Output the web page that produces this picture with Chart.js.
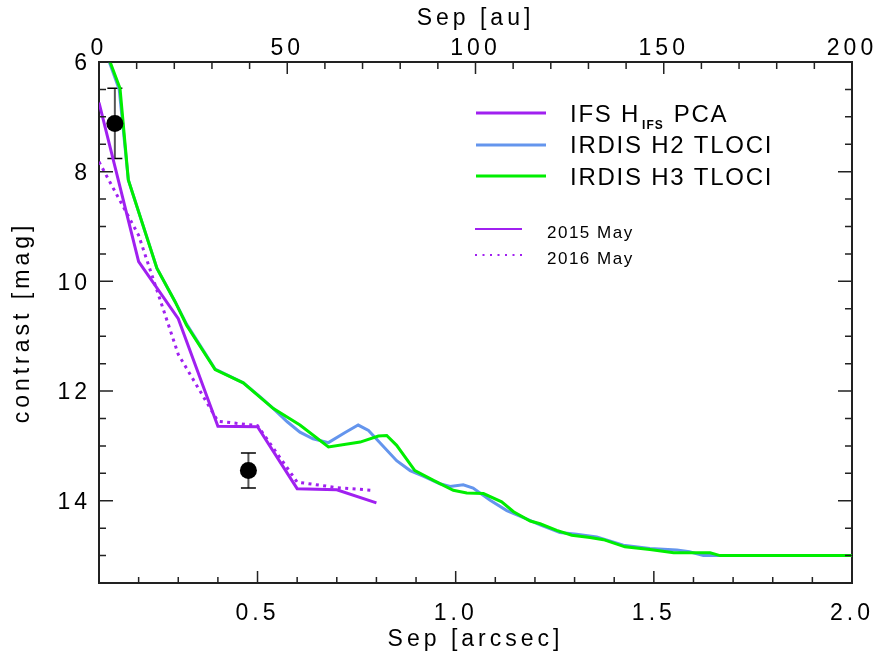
<!DOCTYPE html>
<html><head><meta charset="utf-8">
<script src="https://cdn.jsdelivr.net/npm/chart.js@4.4.1/dist/chart.umd.min.js"></script>
<style>html,body{margin:0;padding:0;background:#fff}canvas{display:block}</style>
</head><body>
<canvas id="c" width="878" height="670"></canvas>
<script>
// ---- data ----
const sepIFS2015 = [0.1, 0.2, 0.3, 0.4, 0.5, 0.6, 0.7, 0.8];
const magIFS2015 = [6.74, 9.64, 10.68, 12.64, 12.65, 13.78, 13.80, 14.04];
const sepIFS2016 = [0.1, 0.2, 0.3, 0.4, 0.5, 0.6, 0.7, 0.79];
const magIFS2016 = [7.82, 9.16, 11.33, 12.55, 12.63, 13.66, 13.76, 13.81];
const sepH2 = [0.126,0.151,0.174,0.246,0.292,0.321,0.393,0.464,0.506,0.54,0.575,0.607,0.64,0.679,0.72,0.754,0.78,0.851,0.885,0.918,0.96,0.986,1.019,1.044,1.087,1.129,1.171,1.213,1.263,1.305,1.356,1.423,1.49,1.558,1.59,1.625,2.0];
const magH2 = [6.0,6.5,8.15,9.76,10.37,10.78,11.6,11.85,12.1,12.32,12.56,12.75,12.87,12.94,12.76,12.62,12.72,13.27,13.45,13.55,13.69,13.74,13.71,13.77,13.99,14.18,14.31,14.44,14.58,14.61,14.66,14.81,14.87,14.9,14.93,15.0,15.0];
const sepH3 = [0.128,0.153,0.174,0.246,0.292,0.321,0.393,0.464,0.506,0.54,0.607,0.679,0.759,0.805,0.826,0.851,0.897,0.944,0.994,1.028,1.07,1.116,1.146,1.188,1.213,1.255,1.293,1.339,1.373,1.427,1.49,1.55,1.642,1.667,2.0];
const magH3 = [6.0,6.48,8.15,9.76,10.37,10.8,11.61,11.85,12.11,12.32,12.62,13.02,12.93,12.82,12.81,12.99,13.45,13.63,13.81,13.86,13.87,14.02,14.2,14.37,14.42,14.54,14.63,14.67,14.71,14.84,14.89,14.95,14.95,15.0,15.0];
const detSep = [0.14, 0.477];
const detMag = [7.12, 13.45];
const detErr = [0.64, 0.32];
// ---- axis / label text ----
const sepLabelled = [0.5, 1.0, 1.5, 2.0];
const auLabelled = [0, 50, 100, 150, 200];
const magLabelled = [6, 8, 10, 12, 14];
const seriesNames = ['IRDIS H2 TLOCI', 'IRDIS H3 TLOCI'];
const ifsName = ['IFS H', 'IFS', 'PCA'];
const epochNames = ['2015 May', '2016 May'];

const PURPLE = '#a020f0', BLUE = '#6495ed', GREEN = '#00ee00';
const FONT = 'Liberation Sans';

const pts = (xs, ys) => xs.map((x, i) => ({x, y: ys[i]}));
const near = (v, arr) => arr.some(a => Math.abs(a - v) < 1e-6);

const spacingPlugin = {
  id: 'spacing',
  beforeUpdate(chart){ chart.ctx.letterSpacing = '4px'; },
  beforeDraw(chart){ chart.ctx.letterSpacing = '4px'; }
};

const errPlugin = {
  id: 'errbars',
  beforeDatasetsDraw(chart){
    const {ctx, scales:{x, y}} = chart;
    ctx.save();
    detSep.forEach((s, i) => {
      const px = x.getPixelForValue(s);
      const y1 = y.getPixelForValue(detMag[i] - detErr[i]);
      const y2 = y.getPixelForValue(detMag[i] + detErr[i]);
      ctx.strokeStyle = '#555'; ctx.lineWidth = 2;
      ctx.beginPath(); ctx.moveTo(px, y1); ctx.lineTo(px, y2); ctx.stroke();
      ctx.strokeStyle = '#000'; ctx.lineWidth = 1.5;
      ctx.beginPath();
      ctx.moveTo(px - 7.5, y1); ctx.lineTo(px + 7.5, y1);
      ctx.moveTo(px - 7.5, y2); ctx.lineTo(px + 7.5, y2);
      ctx.stroke();
    });
    ctx.restore();
  }
};

const tickPlugin = {
  id: 'inticks',
  afterDatasetsDraw(chart){
    const {ctx, chartArea:{left, right, top, bottom}, scales:{x, x2, y}} = chart;
    ctx.save();
    ctx.strokeStyle = '#222'; ctx.lineWidth = 1.5;
    ctx.beginPath();
    x.ticks.forEach(t => {
      const p = x.getPixelForValue(t.value);
      const L = near(t.value, sepLabelled) ? 12 : 6;
      ctx.moveTo(p, bottom); ctx.lineTo(p, bottom - L);
    });
    x2.ticks.forEach(t => {
      const p = x2.getPixelForValue(t.value);
      const L = near(t.value, auLabelled) ? 12 : 7;
      ctx.moveTo(p, top); ctx.lineTo(p, top + L);
    });
    y.ticks.forEach(t => {
      const p = y.getPixelForValue(t.value);
      const L = near(t.value, magLabelled) ? 14 : 7;
      ctx.moveTo(left, p); ctx.lineTo(left + L, p);
      ctx.moveTo(right, p); ctx.lineTo(right - L, p);
    });
    ctx.stroke();
    ctx.restore();
  }
};

const legendPlugin = {
  id: 'customLegend',
  afterDraw(chart){
    const ctx = chart.ctx;
    ctx.save();
    ctx.textBaseline = 'middle';
    ctx.textAlign = 'left';
    ctx.fillStyle = '#000';
    ctx.lineCap = 'butt';
    const lx1 = 476, lx2 = 546, tx = 570;
    const rows = [{c: PURPLE, ly: 113, ty: 115}, {c: BLUE, ly: 145, ty: 146}, {c: GREEN, ly: 176, ty: 178}];
    rows.forEach(r => {
      ctx.strokeStyle = r.c; ctx.lineWidth = 3;
      ctx.beginPath(); ctx.moveTo(lx1, r.ly); ctx.lineTo(lx2, r.ly); ctx.stroke();
    });
    ctx.letterSpacing = '1.75px';
    ctx.font = '24px "' + FONT + '"';
    ctx.fillText(ifsName[0], tx, rows[0].ty);
    let w = ctx.measureText(ifsName[0]).width;
    ctx.font = 'bold 12px "' + FONT + '"';
    ctx.letterSpacing = '1px';
    ctx.fillText(ifsName[1], tx + w + 2, rows[0].ty + 11);
    const w2 = ctx.measureText(ifsName[1]).width;
    ctx.font = '24px "' + FONT + '"';
    ctx.letterSpacing = '1.75px';
    ctx.fillText(ifsName[2], tx + w + w2 + 12, rows[0].ty);
    ctx.fillText(seriesNames[0], tx, rows[1].ty);
    ctx.fillText(seriesNames[1], tx, rows[2].ty);
    ctx.strokeStyle = PURPLE; ctx.lineWidth = 2;
    ctx.beginPath(); ctx.moveTo(475, 229); ctx.lineTo(522, 229); ctx.stroke();
    ctx.setLineDash([2, 5.5]);
    ctx.beginPath(); ctx.moveTo(475, 255); ctx.lineTo(522, 255); ctx.stroke();
    ctx.setLineDash([]);
    ctx.font = '17px "' + FONT + '"';
    ctx.letterSpacing = '1.5px';
    ctx.fillText(epochNames[0], 547, 233);
    ctx.fillText(epochNames[1], 547, 259.5);
    ctx.restore();
  }
};

const tickFont = {family: FONT, size: 23};
const titleFont = {family: FONT, size: 23};
const noPadH = (s, h) => { s.height = h; s.paddingLeft = 0; s.paddingRight = 0; };
const noPadV = (s, w) => { s.width = w; s.paddingTop = 0; s.paddingBottom = 0; };

new Chart(document.getElementById('c'), {
  type: 'line',
  data: {
    datasets: [
      {label: 'Detections', data: pts(detSep, detMag), showLine: false, pointRadius: 8.5,
       pointBackgroundColor: '#000', pointBorderColor: '#000', pointBorderWidth: 0, clip: false, order: 0},
      {label: seriesNames[1], data: pts(sepH3, magH3), borderColor: GREEN, borderWidth: 3, pointRadius: 0, tension: 0, order: 1},
      {label: 'IFS 2015 May', data: pts(sepIFS2015, magIFS2015), borderColor: PURPLE, borderWidth: 3, pointRadius: 0, tension: 0, order: 2},
      {label: 'IFS 2016 May', data: pts(sepIFS2016, magIFS2016), borderColor: PURPLE, borderWidth: 3, borderDash: [3, 4.4], borderCapStyle: 'butt', pointRadius: 0, tension: 0, order: 3},
      {label: seriesNames[0], data: pts(sepH2, magH2), borderColor: BLUE, borderWidth: 3, pointRadius: 0, tension: 0, order: 4}
    ]
  },
  options: {
    responsive: false,
    animation: false,
    devicePixelRatio: 1,
    layout: {padding: 0},
    plugins: {legend: {display: false}, tooltip: {enabled: false}},
    scales: {
      x: {
        type: 'linear', position: 'bottom', min: 0.1, max: 2.0,
        grid: {display: false, drawTicks: false},
        border: {display: true, color: '#222', width: 2},
        ticks: {stepSize: 0.1, autoSkip: false, maxRotation: 0, padding: 17, color: '#000', font: tickFont,
          callback: v => near(v, sepLabelled) ? v.toFixed(1) : ''},
        title: {display: true, text: 'Sep [arcsec]', color: '#000', font: titleFont, padding: {top: 0, bottom: 17}},
        afterFit: s => noPadH(s, 87)
      },
      x2: {
        type: 'linear', position: 'top', min: 0, max: 200,
        grid: {display: false, drawTicks: false},
        border: {display: true, color: '#222', width: 2},
        ticks: {stepSize: 10, autoSkip: false, maxRotation: 0, padding: 0, color: '#000', font: tickFont,
          callback: v => near(v, auLabelled) ? String(Math.round(v)) : ''},
        title: {display: true, text: 'Sep [au]', color: '#000', font: titleFont, padding: {top: 5, bottom: 0}},
        afterFit: s => noPadH(s, 62)
      },
      y: {
        type: 'linear', position: 'left', min: 6, max: 15.5, reverse: true,
        grid: {display: false, drawTicks: false},
        border: {display: true, color: '#222', width: 2},
        ticks: {stepSize: 0.5, autoSkip: false, padding: 8, labelOffset: 2, color: '#000', font: tickFont,
          callback: v => near(v, magLabelled) ? String(Math.round(v)) : ''},
        title: {display: true, text: 'contrast [mag]', color: '#000', font: titleFont, padding: {top: 9, bottom: 0}},
        afterFit: s => noPadV(s, 99)
      },
      y2: {
        type: 'linear', position: 'right', min: 6, max: 15.5, reverse: true,
        grid: {display: false, drawTicks: false},
        border: {display: true, color: '#222', width: 2},
        ticks: {display: false},
        afterFit: s => noPadV(s, 26)
      }
    }
  },
  plugins: [spacingPlugin, errPlugin, tickPlugin, legendPlugin]
});
</script>
</body></html>
